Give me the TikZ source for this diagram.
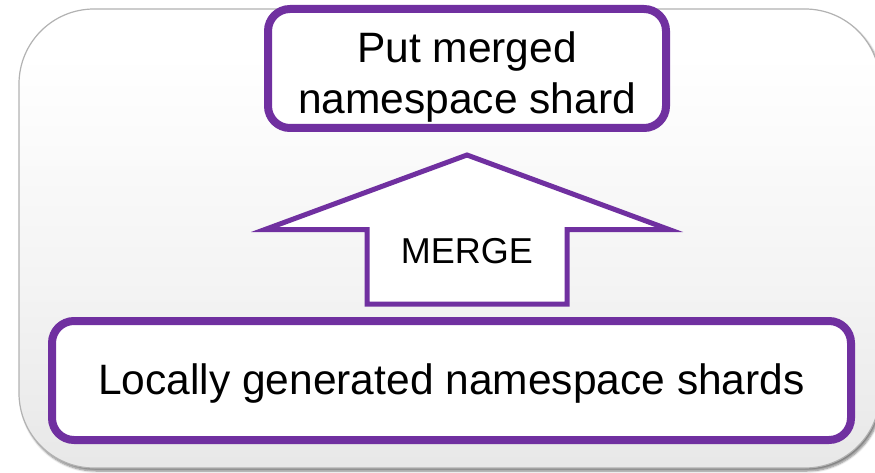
\documentclass[tikz,border=0pt]{standalone}
\usepackage{fontspec}
\setmainfont{Liberation Sans}
\usetikzlibrary{shadows.blur}
\definecolor{boxpurple}{HTML}{7030A0}
\definecolor{panelgray}{HTML}{D9D9D9}
\pgfdeclareverticalshading{panelfade}{100bp}{%
  color(0bp)=(panelgray); color(45bp)=(white!70!panelgray);
  color(70bp)=(white); color(100bp)=(white)}
\tikzset{
  panel/.style={draw=gray!60, line width=1.2pt, rounded corners=75pt,
    shading=panelfade,
    blur shadow={shadow xshift=2pt, shadow yshift=-3pt, shadow blur steps=6,
      shadow opacity=50}},
  stepbox/.style={draw=boxpurple, line width=8pt, rounded corners=22pt,
    fill=white, inner sep=0pt},
  steptext/.style={align=center, inner sep=0pt,
    font=\fontsize{42.5}{51}\selectfont},
  bigarrow/.style={draw=boxpurple, line width=5pt, fill=white, line join=miter},
  arrowlabel/.style={font=\fontsize{36}{43}\selectfont, inner sep=0pt}
}
\begin{document}
\begin{tikzpicture}[x=1pt, y=-1pt]
  \useasboundingbox (0,0) rectangle (875,473);
  \clip (0,0) rectangle (875,473);
  % background panel
  \path[panel] (19,9) rectangle (880,468);
  % boxes
  \node[stepbox, minimum width=398pt, minimum height=119pt] (put) at (467,68.5) {};
  \node[steptext] (puttext) at ([yshift=-9pt]put.center)
    {Put merged\\namespace shard};
  \node[stepbox, minimum width=799pt, minimum height=119pt] (local) at (451.5,380.5) {};
  \node[steptext] (localtext) at ([yshift=-3pt]local.center)
    {Locally generated namespace shards};
  % block arrow between them
  \coordinate (tip) at (467,155);
  \coordinate (lw) at (265,229.5);
  \coordinate (rw) at (669,229.5);
  \draw[bigarrow] (367,304) -- (367,229.5) -- (lw) -- (tip) -- (rw)
    -- (567,229.5) -- (567,304) -- cycle;
  \node[arrowlabel] (merge) at (467,251) {MERGE};
\end{tikzpicture}
\end{document}
